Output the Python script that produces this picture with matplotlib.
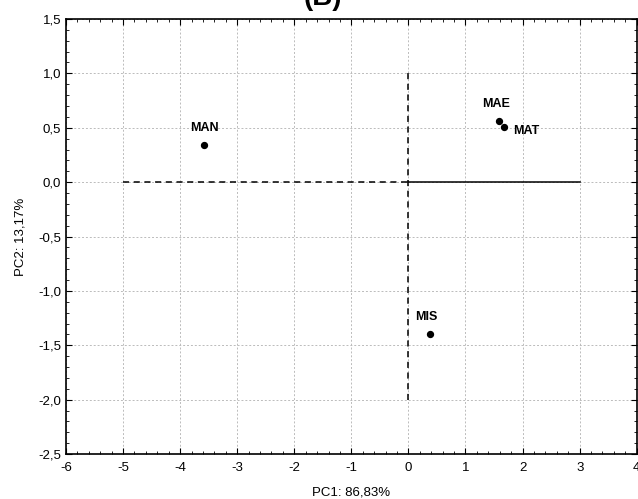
import matplotlib
matplotlib.use("Agg")
import matplotlib.pyplot as plt
from matplotlib.ticker import MultipleLocator, FuncFormatter

plt.rcParams['font.family'] = ['Liberation Sans', 'DejaVu Sans']

labels = ["MAN", "MAE", "MAT", "MIS"]
pc1 = [-3.58, 1.58, 1.67, 0.37]
pc2 = [0.34, 0.565, 0.51, -1.40]
label_offsets = [(0, 8), (-2, 8), (7, -3), (-2, 8)]
label_ha = ["center", "center", "left", "center"]

fig = plt.figure(figsize=(6.38, 4.99), dpi=100)
ax = fig.add_axes([0.1034, 0.090, 0.8946, 0.872])

ax.set_xlim(-6, 4)
ax.set_ylim(-2.5, 1.5)
ax.xaxis.set_major_locator(MultipleLocator(1))
ax.xaxis.set_minor_locator(MultipleLocator(0.2))
ax.yaxis.set_major_locator(MultipleLocator(0.5))
ax.yaxis.set_minor_locator(MultipleLocator(0.1))
ax.yaxis.set_major_formatter(FuncFormatter(lambda v, p: f"{v:.1f}".replace(".", ",").replace("-0,0", "0,0")))
ax.xaxis.set_major_formatter(FuncFormatter(lambda v, p: f"{int(round(v))}"))
ax.tick_params(which='both', direction='in', top=True, right=True, labelsize=9.5)
ax.tick_params(axis='x', which='major', pad=6)
ax.tick_params(which='major', length=4)
ax.tick_params(which='minor', length=2)
ax.grid(True, which='major', color='#bbbbbb', linestyle=(0, (2, 2)), linewidth=0.7)
for s in ax.spines.values():
    s.set_linewidth(1.2)

# reference lines
ax.plot([-5, 0], [0, 0], color='black', linestyle=(0, (4, 3)), linewidth=1.1)
ax.plot([0, 3], [0, 0], color='black', linestyle='-', linewidth=1.1)
ax.plot([0, 0], [-2, 1], color='black', linestyle=(0, (4, 3)), linewidth=1.1)

ax.scatter(pc1, pc2, s=18, color='black', zorder=3)
for lab, x, y, off, ha in zip(labels, pc1, pc2, label_offsets, label_ha):
    ax.annotate(lab, (x, y), xytext=off, textcoords='offset points',
                ha=ha, va='bottom' if off[1] > 0 else 'center', fontsize=9, fontweight='bold')

ax.set_xlabel("PC1: 86,83%", fontsize=9.5, labelpad=9)
ax.set_ylabel("PC2: 13,17%", fontsize=9.5, labelpad=8)

fig.text(0.506, 1.005, "(B)", ha='center', va='center', fontsize=20, fontweight='bold')

fig.savefig("out.png", dpi=100)
